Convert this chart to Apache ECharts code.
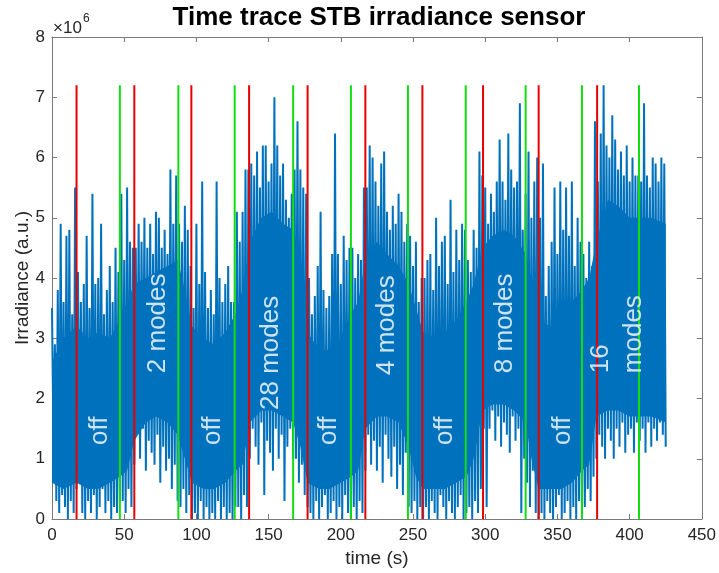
<!DOCTYPE html>
<html>
<head>
<meta charset="utf-8">
<script src="https://cdn.jsdelivr.net/npm/echarts@6/dist/echarts.min.js"></script>
<style>
html,body{margin:0;padding:0;background:#fff;}
#chart{width:719px;height:573px;}
</style>
</head>
<body>
<div id="chart"></div>
<script>
// ---- data (irradiance in units of 1e6, sampled every 2 s: local peak then local trough) ----
const sampleStep = 2; // seconds between peak samples
const peakValues = [
  3.5, 2.9, 3.8, 4.9, 3.6, 4.7, 4.8, 3.4, 5.5,
  4.1, 3.6, 3.9, 4.7, 3.5, 5.4, 3.9, 4.0, 4.9, 3.4, 3.8, 4.2, 3.6, 4.5, 4.1,
  5.4, 4.3, 5.5, 4.6, 4.5,
  4.5, 4.9, 4.6, 5.0, 4.5, 4.9, 4.4, 5.1, 5.0, 4.5, 4.8, 4.4, 5.8, 4.9, 5.7,
  4.9, 4.6, 5.2, 4.8, 4.2,
  3.5, 4.9, 3.9, 5.6, 4.1, 3.5, 3.8, 3.4, 5.6, 4.0, 3.6, 3.9, 4.2, 3.6, 3.6,
  5.1, 4.6, 5.1, 5.8, 5.8,
  5.9, 5.7, 6.1, 5.5, 6.2, 6.2, 5.6, 5.9, 7.0, 6.2, 5.7, 5.9, 5.3, 5.0, 5.4,
  5.8, 6.6, 5.8, 5.5, 5.4,
  4.0, 3.4, 3.7, 4.2, 5.1, 3.8, 3.5, 3.7, 4.4, 6.4, 4.4, 3.9, 4.7, 4.3, 4.5,
  4.5, 4.0, 4.4, 4.3, 5.5,
  5.5, 6.2, 6.0, 5.6, 5.2, 5.9, 6.1, 5.1, 4.8, 5.2, 4.9, 5.4, 5.1, 4.6, 4.9,
  4.7, 4.2, 4.6, 3.6, 4.0,
  4.0, 4.3, 4.4, 3.8, 5.0, 4.2, 4.6, 4.7, 3.9, 5.3, 4.1, 4.8, 4.3, 4.9, 4.8,
  4.3, 4.1, 4.8, 4.5, 6.1,
  5.7, 5.5, 4.9, 5.4, 5.1, 5.6, 6.3, 5.6, 5.3, 6.4, 5.8, 5.5, 5.6, 6.9, 4.8,
  5.4, 6.1, 5.0, 5.6, 6.0,
  5.0, 5.9, 3.7, 4.2, 4.6, 5.5, 4.4, 5.6, 4.8, 5.5, 4.7, 5.6, 4.2, 5.0, 4.6,
  4.4, 4.0, 4.6, 4.2, 6.6,
  5.6, 6.4, 7.2, 6.2, 6.0, 6.7, 6.3, 5.8, 6.1, 5.7, 6.2, 5.6, 6.0, 5.7, 5.7,
  5.6, 6.9, 5.7, 5.5, 6.0, 5.9, 5.6, 6.0, 5.9
];
const troughValues = [
  1.3, 0.3, 0.1, 0.4, 0.2, 0.0, 0.3, 0.1, 0.5,
  0.6, 0.1, 0.0, 0.3, 0.1, 0.4, 0.0, 0.2, 0.5, 0.1, 0.3, 0.0, 0.2, 0.1, 0.3,
  0.3, 0.1, 0.5, 0.2, 0.9,
  1.4, 1.0, 1.5, 0.8, 1.3, 1.1, 0.9, 1.4, 0.6, 1.2, 0.8, 1.0, 0.5, 0.9, 0.3,
  0.2, 0.5, 0.1, 0.4, 0.0,
  0.1, 0.0, 0.3, 0.0, 0.2, 0.0, 0.1, 0.0, 0.3, 0.0, 0.2, 0.0, 0.1, 0.0, 0.2,
  0.2, 0.0, 0.4, 0.2, 1.0,
  1.5, 1.2, 0.9, 1.6, 0.4, 1.3, 1.1, 0.8, 1.5, 1.0, 1.4, 0.3, 1.2, 1.5, 1.0,
  1.0, 0.6, 0.9, 0.4, 0.2,
  0.1, 0.0, 0.3, 0.0, 0.2, 0.4, 0.0, 0.1, 0.3, 0.0, 0.2, 0.0, 0.4, 0.1, 0.0,
  0.2, 0.0, 0.3, 0.1, 0.8,
  1.4, 0.9, 1.3, 0.8, 1.2, 0.6, 1.4, 1.0, 0.7, 1.2, 0.5, 0.9, 0.4, 1.1, 0.2,
  0.1, 0.3, 0.0, 0.2, 0.0,
  0.2, 0.0, 0.3, 0.1, 0.0, 0.4, 0.2, 0.0, 0.3, 0.1, 0.0, 0.2, 0.4, 0.0, 0.1,
  0.2, 0.0, 0.3, 0.1, 0.5,
  1.5, 0.2, 1.5, 1.8, 1.3, 1.7, 1.2, 1.6, 1.4, 1.1, 1.7, 1.3, 1.5, 0.1, 1.0,
  0.6, 0.2, 0.8, 0.1, 0.0,
  0.1, 0.0, 0.3, 0.1, 0.0, 0.2, 0.4, 0.0, 0.1, 0.3, 0.0, 0.2, 0.0, 0.3, 0.1,
  0.2, 0.5, 0.3, 0.7, 1.0,
  1.4, 1.2, 1.0, 1.5, 1.3, 1.0, 1.5, 1.2, 1.6, 1.1, 1.4, 1.5, 1.1, 1.6, 1.3,
  1.5, 1.1, 1.6, 1.2, 1.5, 1.3, 1.6, 1.4, 1.2
];
// dense (solid) core of the trace
const coreTimes = [0, 8, 17, 25, 32, 40, 47, 52, 57, 65, 72, 80, 87, 92, 97, 105, 112, 120, 127, 132,
  137, 145, 152, 160, 167, 172, 177, 185, 192, 200, 207, 212, 217, 225, 232, 240, 247, 252, 257, 265,
  272, 280, 287, 292, 298, 305, 313, 320, 328, 332, 337, 345, 353, 360, 367, 372, 377, 385, 392, 400,
  407, 415, 425];
const coreLow = [0.6, 0.5, 0.6, 0.5, 0.5, 0.6, 0.7, 0.8, 1.3, 1.6, 1.7, 1.6, 1.4, 1.0, 0.6, 0.5, 0.5, 0.6, 0.8, 0.9,
  1.6, 1.8, 1.8, 1.7, 1.6, 1.2, 0.6, 0.5, 0.5, 0.6, 0.7, 0.8, 1.5, 1.7, 1.7, 1.6, 1.2, 0.7, 0.5, 0.5,
  0.5, 0.6, 0.7, 1.0, 1.8, 1.9, 1.9, 1.8, 1.6, 1.0, 0.5, 0.5, 0.5, 0.6, 0.8, 0.9, 1.7, 1.8, 1.8, 1.7,
  1.7, 1.7, 1.6];
const coreHigh = [2.6, 3.0, 3.2, 3.0, 3.1, 3.0, 3.3, 3.6, 3.9, 4.0, 4.1, 4.2, 4.3, 3.8, 3.2, 3.0, 2.9, 3.1, 3.4, 3.8,
  4.6, 5.0, 5.1, 4.9, 4.8, 4.2, 3.1, 2.8, 2.8, 3.0, 3.4, 3.6, 4.3, 4.6, 4.4, 4.2, 3.9, 3.5, 3.1, 3.0,
  3.1, 3.3, 3.6, 3.9, 4.5, 4.7, 4.8, 4.7, 4.4, 4.0, 3.3, 3.2, 3.3, 3.6, 3.8, 4.0, 4.6, 5.3, 5.2, 5.0,
  5.0, 5.0, 4.9];
const redLineTimes   = [17, 57, 96.5, 136.5, 177, 217, 256.5, 298.5, 337, 377.5];
const greenLineTimes = [47, 87.5, 126.5, 167, 207, 246.5, 286.5, 328, 367, 406.5];
const markerLineTop = 7.2;
const stateLabels = ['off', '2 modes', 'off', '28 modes', 'off', '4 modes', 'off', '8 modes', 'off', '16', 'modes'];
const stateLabelTimes = [33, 73, 111.6, 151.5, 192, 232, 272, 313.8, 353.7, 380, 403];
const stateLabelBase = [1.23, 2.42, 1.23, 1.81, 1.23, 2.39, 1.23, 2.42, 1.23, 2.42, 2.42];
const xTicks = [0, 50, 100, 150, 200, 250, 300, 350, 400, 450];
const yTicks = [0, 1, 2, 3, 4, 5, 6, 7, 8];

// ---- build series ----
const BLUE = '#0072BD';
const trace = [];
for (let i = 0; i < peakValues.length; i++) {
  trace.push([i * sampleStep, peakValues[i]]);
  trace.push([i * sampleStep + sampleStep / 2, troughValues[i]]);
}
const FONT = 'Liberation Sans, Arial, Helvetica, sans-serif';
const TXT = '#262626';
const AX = '#7a7a7a';

const series = [{
  type: 'custom', animation: false, z: 1, silent: true,
  data: [[0]],
  renderItem: function (params, api) {
    const pts = [];
    for (let i = 0; i < coreTimes.length; i++) pts.push(api.coord([coreTimes[i], coreHigh[i]]));
    for (let i = coreTimes.length - 1; i >= 0; i--) pts.push(api.coord([coreTimes[i], coreLow[i]]));
    return { type: 'polygon', shape: { points: pts }, style: { fill: BLUE } };
  }
}, {
  type: 'line', data: trace, symbol: 'none', animation: false,
  lineStyle: { color: BLUE, width: 2 }, z: 2
}];
redLineTimes.forEach(t => series.push({
  type: 'line', data: [[t, 0], [t, markerLineTop]], symbol: 'none', animation: false,
  lineStyle: { color: '#e60000', width: 2 }, z: 3
}));
greenLineTimes.forEach(t => series.push({
  type: 'line', data: [[t, 0], [t, markerLineTop]], symbol: 'none', animation: false,
  lineStyle: { color: '#11dd11', width: 2 }, z: 3
}));
series.push({
  type: 'scatter', symbolSize: 0, animation: false, z: 5,
  data: stateLabels.map((s, i) => ({ value: [stateLabelTimes[i], stateLabelBase[i]], name: s })),
  label: {
    show: true, position: 'inside', rotate: 90, align: 'left', verticalAlign: 'middle',
    formatter: p => p.name, color: '#ffffff', fontSize: 26, fontFamily: FONT
  }
});

const axisCommon = {
  axisLine: { show: true, onZero: false, lineStyle: { color: AX, width: 1 } },
  axisTick: { show: true, inside: true, length: 5, lineStyle: { color: AX } },
  splitLine: { show: false }
};

const chart = echarts.init(document.getElementById('chart'), null, { renderer: 'canvas' });
chart.setOption({
  animation: false,
  grid: { left: 52, right: 13, top: 37, bottom: 54, containLabel: false },
  xAxis: [
    Object.assign({
      type: 'value', min: xTicks[0], max: xTicks[xTicks.length - 1], interval: 50, position: 'bottom',
      axisLabel: { color: TXT, fontSize: 17, fontFamily: FONT, margin: 8, showMaxLabel: true },
      name: 'time (s)', nameLocation: 'middle', nameGap: 30,
      nameTextStyle: { color: TXT, fontSize: 19, fontFamily: FONT }
    }, axisCommon),
    Object.assign({
      type: 'value', min: xTicks[0], max: xTicks[xTicks.length - 1], interval: 50, position: 'top',
      axisLabel: { show: false }
    }, axisCommon)
  ],
  yAxis: [
    Object.assign({
      type: 'value', min: yTicks[0], max: yTicks[yTicks.length - 1], interval: 1, position: 'left',
      axisLabel: { color: TXT, fontSize: 17, fontFamily: FONT, margin: 7 },
      name: 'Irradiance (a.u.)', nameLocation: 'middle', nameGap: 20, nameMoveOverlap: false,
      nameTextStyle: { color: TXT, fontSize: 19, fontFamily: FONT }
    }, axisCommon),
    Object.assign({
      type: 'value', min: yTicks[0], max: yTicks[yTicks.length - 1], interval: 1, position: 'right',
      axisLabel: { show: false }
    }, axisCommon)
  ],
  graphic: [
    { type: 'text', x: 379, y: 18, style: { text: 'Time trace STB irradiance sensor', fontSize: 26, fontWeight: 'bold', fontFamily: FONT, fill: '#000', textAlign: 'center', textVerticalAlign: 'middle' } },
    { type: 'text', x: 53, y: 28, style: { text: '×10', fontSize: 17, fontFamily: FONT, fill: TXT, textVerticalAlign: 'middle' } },
    { type: 'text', x: 83, y: 19, style: { text: '6', fontSize: 12, fontFamily: FONT, fill: TXT, textVerticalAlign: 'middle' } }
  ],
  series: series
});
</script>
</body>
</html>
